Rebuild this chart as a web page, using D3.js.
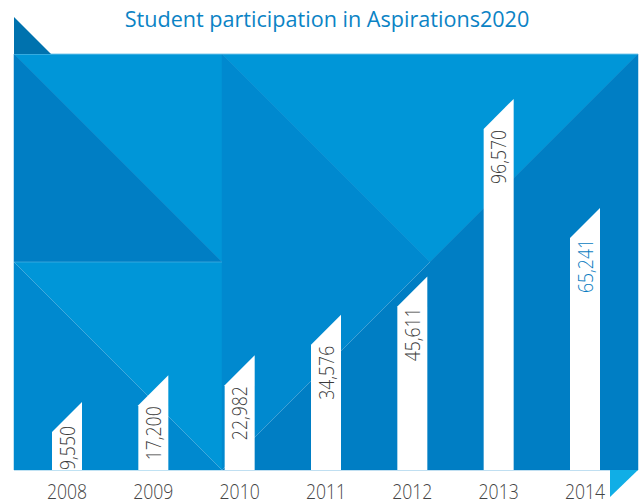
<!DOCTYPE html>
<html>
<head>
<meta charset="utf-8">
<script src="https://cdn.jsdelivr.net/npm/d3@7"></script>
<style>
  html, body { margin: 0; padding: 0; background: #ffffff; }
  svg { display: block; }
</style>
</head>
<body>
<svg id="chart" width="639" height="504"></svg>
<script>
// ---- data ----
const years = ["2008", "2009", "2010", "2011", "2012", "2013", "2014"];
const participants = [9550, 17200, 22982, 34576, 45611, 96570, 65241];
const chartTitle = "Student participation in Aspirations2020";

// ---- layout ----
const plotL = 14, plotT = 54, unit = 208;
const baseline = plotT + 2 * unit;      // 470
const plotR = plotL + 3 * unit;         // 638
const barW = 30;
const fontFam = "'Open Sans', 'Noto Sans', sans-serif";

const svg = d3.select("#chart");

const x = d3.scalePoint().domain(years).range([67, 585]);
const y = d3.scaleLinear().domain([0, 100000]).range([465.2, 117]);

// ---- background facets ----
const C_LIGHT = "#0096d8", C_MED = "#0089cf", C_DARK = "#007ec4";
const bg = svg.append("g");
const facets = [
  { pts: [[plotL, plotT], [plotL + unit, plotT], [plotL + unit, plotT + unit]], c: C_LIGHT },
  { pts: [[plotL, plotT], [plotL, plotT + unit], [plotL + unit, plotT + unit]], c: C_DARK },
  { pts: [[plotL, plotT + unit], [plotL + unit, plotT + unit], [plotL + unit, baseline]], c: C_LIGHT },
  { pts: [[plotL, plotT + unit], [plotL, baseline], [plotL + unit, baseline]], c: C_MED },
  { pts: [[plotL + unit, plotT], [plotR, plotT], [plotL + 2 * unit, plotT + unit]], c: C_LIGHT },
  { pts: [[plotL + unit, plotT], [plotL + 2 * unit, plotT + unit], [plotL + unit, baseline]], c: C_MED },
  { pts: [[plotL + unit, baseline], [plotR, plotT], [plotR, baseline]], c: C_DARK }
];
bg.selectAll("path.facet").data(facets).join("path")
  .attr("class", "facet")
  .attr("d", d => "M" + d.pts.map(p => p.join(",")).join("L") + "Z")
  .attr("fill", d => d.c)
  .attr("stroke", d => d.c)
  .attr("stroke-width", 0.5);

// thin highlight lines
const lines = [
  [[plotL, plotT + unit], [plotL + unit, plotT + unit]],
  [[plotL, plotT + unit], [plotL + unit, baseline]],
  [[plotL + unit, baseline], [plotL + 2 * unit, plotT + unit]],
  [[plotL, plotT + 0.5], [plotR, plotT + 0.5]]
];
bg.selectAll("line.hl").data(lines).join("line")
  .attr("class", "hl")
  .attr("x1", d => d[0][0]).attr("y1", d => d[0][1])
  .attr("x2", d => d[1][0]).attr("y2", d => d[1][1])
  .attr("stroke", "rgba(255,255,255,0.3)")
  .attr("stroke-width", 0.7);

// corner triangles
svg.append("path")
  .attr("d", `M${plotL},${plotT - 37}L${plotL},${plotT}L${plotL + 37},${plotT}Z`)
  .attr("fill", "#0072ae");
svg.append("path")
  .attr("d", `M${plotR - 28},${baseline}L${plotR},${baseline}L${plotR - 28},${baseline + 27}Z`)
  .attr("fill", "#10aee6");

// ---- title ----
svg.append("text")
  .attr("x", 327).attr("y", 27)
  .attr("text-anchor", "middle")
  .attr("font-family", fontFam)
  .attr("font-size", 21.6)
  .attr("fill", "#0b83c5")
  .text(chartTitle);

// ---- bars ----
const data = years.map((yr, i) => ({ year: yr, value: participants[i] }));
const bars = svg.append("g");
bars.selectAll("path.bar").data(data).join("path")
  .attr("class", "bar")
  .attr("d", d => {
    const x0 = x(d.year) - barW / 2, x1 = x(d.year) + barW / 2;
    const yl = y(d.value), yr = yl - barW;
    return `M${x0},${baseline}L${x0},${yl}L${x1},${yr}L${x1},${baseline}Z`;
  })
  .attr("fill", "#ffffff");

// ---- value labels ----
const fmt = d3.format(",");
const sx = 0.88;
const vl = svg.append("g").selectAll("text.val").data(data).join("text")
  .attr("class", "val")
  .attr("font-family", fontFam)
  .attr("font-weight", 300)
  .attr("font-size", 20)
  .attr("text-anchor", "end")
  .attr("fill", (d, i) => i === data.length - 1 ? "#0a7cc1" : "#3a3a3a")
  .text(d => fmt(d.value));
vl.each(function(d) {
  const len = this.getComputedTextLength() * sx;
  let yEnd = y(d.value) + 1;
  if (yEnd + len > baseline) yEnd = baseline - len;
  d3.select(this).attr("transform",
    `translate(${x(d.year) + 7.5},${yEnd}) rotate(-90) scale(${sx},1)`);
});

// ---- year labels ----
svg.append("g").selectAll("text.yr").data(years).join("text")
  .attr("class", "yr")
  .attr("transform", d => `translate(${x(d)},${499}) scale(${sx},1)`)
  .attr("text-anchor", "middle")
  .attr("font-family", fontFam)
  .attr("font-weight", 300)
  .attr("font-size", 20)
  .attr("fill", "#444444")
  .text(d => d);
</script>
</body>
</html>
